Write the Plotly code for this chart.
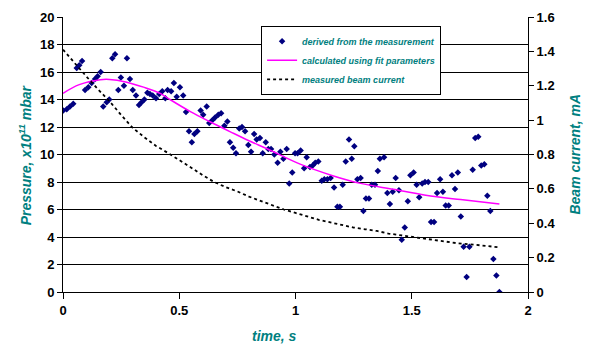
import plotly.graph_objects as go

# measured pressure (derived from the measurement), t in s, P in 1e-11 mbar
t_meas = [0.001, 0.016, 0.030, 0.044, 0.059, 0.070, 0.082, 0.095, 0.109, 0.123,
          0.138, 0.149, 0.162, 0.173, 0.188, 0.199, 0.212, 0.224, 0.238, 0.249,
          0.262, 0.275, 0.288, 0.300, 0.314, 0.327, 0.338, 0.350, 0.363, 0.374,
          0.386, 0.400, 0.414, 0.427, 0.440, 0.450, 0.465, 0.477, 0.489, 0.503,
          0.517, 0.529, 0.542, 0.554, 0.565, 0.578, 0.592, 0.603, 0.618, 0.629,
          0.642, 0.654, 0.668, 0.680, 0.694, 0.707, 0.718, 0.732, 0.744, 0.758,
          0.770, 0.783, 0.797, 0.809, 0.822, 0.833, 0.847, 0.859, 0.872, 0.883,
          0.895, 0.909, 0.923, 0.935, 0.948, 0.962, 0.973, 0.986, 0.998, 1.009,
          1.022, 1.037, 1.048, 1.062, 1.074, 1.085, 1.098, 1.113, 1.124, 1.137,
          1.151, 1.166, 1.180, 1.191, 1.203, 1.216, 1.230, 1.242, 1.253, 1.266,
          1.280, 1.292, 1.303, 1.316, 1.328, 1.342, 1.354, 1.363, 1.381, 1.395,
          1.406, 1.418, 1.431, 1.445, 1.457, 1.470, 1.483, 1.494, 1.508, 1.521,
          1.532, 1.545, 1.557, 1.571, 1.583, 1.596, 1.609, 1.622, 1.634, 1.646,
          1.659, 1.673, 1.686, 1.698, 1.711, 1.723, 1.736, 1.748, 1.762, 1.773,
          1.786, 1.799, 1.812, 1.825, 1.838, 1.851, 1.864, 1.877]
p_meas = [13.2, 13.3, 13.5, 13.7, 16.3, 16.5, 16.8, 14.7, 14.9, 15.2,
          15.5, 15.7, 16.0, 13.5, 13.8, 14.0, 17.0, 17.3, 14.7, 15.6,
          15.0, 17.0, 15.5, 14.7, 14.3, 13.6, 13.8, 14.0, 14.5, 14.4,
          14.3, 14.1, 14.4, 14.6, 14.1, 14.7, 14.6, 15.2, 14.2, 14.9,
          14.3, 13.1, 11.7, 10.9, 11.5, 11.7, 13.2, 12.9, 13.5, 12.3,
          12.5, 12.7, 12.9, 13.0, 12.1, 12.4, 10.9, 10.5, 10.1, 11.9,
          12.0, 11.7, 10.7, 10.2, 11.5, 11.1, 11.2, 10.1, 10.9, 10.4,
          10.4, 10.0, 9.4, 10.2, 9.7, 10.4, 7.9, 8.7, 10.1, 10.1,
          10.3, 9.0, 9.8, 9.1, 9.2, 9.4, 9.5, 8.1, 8.2, 8.2,
          8.3, 7.6, 6.2, 6.2, 7.8, 9.5, 11.1, 9.7, 10.6, 8.2,
          8.3, 5.9, 6.8, 6.8, 7.8, 7.8, 8.8, 9.7, 9.8, 7.2,
          6.4, 7.3, 8.3, 7.4, 3.8, 4.7, 6.6, 8.5, 8.7, 7.8,
          6.9, 7.9, 8.0, 8.0, 5.1, 5.1, 7.2, 8.2, 7.3, 6.3,
          6.3, 8.5, 7.5, 8.7, 5.5, 3.3, 1.1, 3.3, 8.9, 11.2,
          11.3, 9.2, 9.3, 7.0, 5.9, 2.4, 1.2, 0.0]

# calculated using fit parameters
t_fit = [0.0, 0.07, 0.16, 0.20, 0.27, 0.35, 0.42, 0.46, 0.55, 0.63,
         0.72, 0.80, 0.88, 1.02, 1.16, 1.28, 1.42, 1.56, 1.71, 1.877]
p_fit = [14.45, 15.08, 15.44, 15.46, 15.28, 14.88, 14.43, 14.0, 13.1, 12.4,
         11.65, 11.0, 10.4, 9.3, 8.46, 7.9, 7.47, 7.04, 6.72, 6.4]

# measured beam current, mA
t_beam = [0.00, 0.05, 0.10, 0.15, 0.20, 0.25, 0.30, 0.35, 0.40, 0.45,
          0.50, 0.55, 0.60, 0.65, 0.70, 0.75, 0.80, 0.85, 0.90, 0.95,
          1.00, 1.05, 1.10, 1.15, 1.20, 1.25, 1.30, 1.35, 1.40, 1.45,
          1.50, 1.55, 1.60, 1.65, 1.70, 1.75, 1.80, 1.85, 1.875]
i_beam = [1.41, 1.33, 1.255, 1.18, 1.11, 1.03, 0.955, 0.90, 0.85, 0.81,
          0.77, 0.725, 0.68, 0.64, 0.61, 0.585, 0.555, 0.53, 0.505, 0.48,
          0.46, 0.44, 0.42, 0.405, 0.39, 0.375, 0.365, 0.355, 0.34, 0.33,
          0.32, 0.31, 0.30, 0.29, 0.283, 0.278, 0.27, 0.26, 0.26]

x_ticks = [0, 0.5, 1, 1.5, 2]
x_labels = ["0", "0.5", "1", "1.5", "2"]

TEAL = "#008080"
FONT = "Arial, Liberation Sans, sans-serif"

fig = go.Figure()
fig.add_trace(go.Scatter(
    x=t_meas, y=p_meas, mode="markers", name="derived from the measurement",
    marker=dict(symbol="diamond", size=5, color="#000080")))
fig.add_trace(go.Scatter(
    x=t_fit, y=p_fit, mode="lines", name="calculated using fit parameters",
    line=dict(color="#FF00FF", width=1.5, shape="spline")))
fig.add_trace(go.Scatter(
    x=t_beam, y=i_beam, mode="lines", name="measured beam current", yaxis="y2",
    line=dict(color="black", width=1.8, dash="dot")))

tickfont = dict(family=FONT, size=13, color="black", weight="bold")
titlefont = dict(family=FONT, size=14, color=TEAL, weight="bold", style="italic")

fig.update_layout(
    width=591, height=352,
    margin=dict(l=63, r=63, t=10, b=60),
    paper_bgcolor="white", plot_bgcolor="white",
    font=dict(family=FONT),
    xaxis=dict(range=[0, 2], tickvals=x_ticks, ticktext=x_labels,
               showgrid=False, zeroline=False, showline=True, linecolor="black",
               linewidth=1, ticks="outside", ticklen=6, tickcolor="black",
               tickfont=tickfont),
    yaxis=dict(range=[0, 20], dtick=2, showgrid=True, gridcolor="black", gridwidth=1,
               zeroline=False, showline=True, linecolor="black", linewidth=1,
               ticks="outside", ticklen=5, tickcolor="black", tickfont=tickfont),
    yaxis2=dict(range=[0, 1.6], dtick=0.2, overlaying="y", side="right",
                showgrid=False, zeroline=False, showline=True, linecolor="black",
                linewidth=1, ticks="outside", ticklen=5, tickcolor="black",
                tickfont=tickfont),
    legend=dict(x=0.426, y=0.968, xanchor="left", yanchor="top",
                bgcolor="white", bordercolor="black", borderwidth=1,
                font=dict(family=FONT, size=9, color=TEAL, weight="bold", style="italic"),
                tracegroupgap=0, itemwidth=30),
    showlegend=True,
    annotations=[
        dict(text="time, s", xref="paper", yref="paper", x=0.454, y=-0.16,
             xanchor="center", yanchor="middle", showarrow=False, font=titlefont),
        dict(text="Pressure, x10<sup>11</sup> mbar", xref="paper", yref="paper",
             x=-0.082, y=0.5, xanchor="center", yanchor="middle", textangle=-90,
             showarrow=False, font=titlefont),
        dict(text="Beam current, mA", xref="paper", yref="paper",
             x=1.099, y=0.5, xanchor="center", yanchor="middle", textangle=-90,
             showarrow=False, font=titlefont),
    ],
)

fig.write_html("out.html")
